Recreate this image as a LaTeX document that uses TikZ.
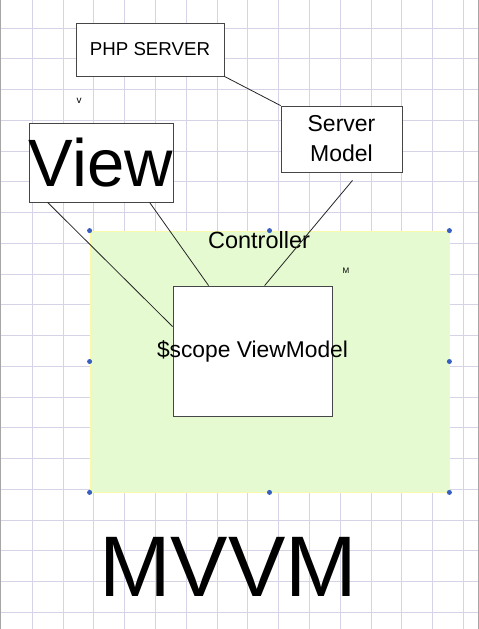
\documentclass[tikz,border=0pt]{standalone}
\usepackage{fontspec}
\setmainfont{Liberation Sans}
\usepackage{xcolor}
\usetikzlibrary{positioning}

\definecolor{gridlav}{RGB}{212,212,230}
\definecolor{ctrlgreen}{RGB}{229,250,209}
\definecolor{ctrledge}{RGB}{250,250,170}
\definecolor{boxgray}{RGB}{70,70,70}
\definecolor{handleblue}{RGB}{55,95,195}

\newcommand{\fs}[1]{\fontsize{#1}{#1}\selectfont}

\begin{document}
\begin{tikzpicture}[
  x=1pt, y=-1pt,
  box/.style={draw=boxgray, fill=white, line width=0.8pt, inner sep=0pt, align=center},
  link/.style={draw=black!85, line width=0.8pt},
  handle/.style={circle, fill=handleblue, inner sep=0pt, minimum size=5pt}
]
\useasboundingbox (0,0) rectangle (479,629);
\fill[white] (0,0) rectangle (479,629);

% grid
\foreach \i in {1,...,15}
  \draw[gridlav, line width=0.9pt] (1.5+30.8*\i,0) -- (1.5+30.8*\i,629);
\foreach \j in {0,...,19}
  \draw[gridlav, line width=0.9pt] (0,28+30.75*\j) -- (479,28+30.75*\j);
\draw[gray!70, line width=1.2pt] (0.6,0) -- (0.6,629);
\draw[gray!70, line width=1.2pt] (478.4,0) -- (478.4,629);

% controller area
\node[draw=ctrledge, fill=ctrlgreen, line width=0.8pt, minimum width=359pt, minimum height=261pt,
  inner sep=0pt] (ctrl) at (269.5,361.5) {};
\node[anchor=base, font=\fs{23.5}] (ctrllbl) at (259,248) {Controller};
\node[font=\fs{8}] (mark) at (346,271) {M};

% boxes
\node[box, minimum width=148pt, minimum height=53pt, font=\fs{18.7}] (php) at (150,49.5) {PHP SERVER};
\node[box, minimum width=144pt, minimum height=79pt, font=\fs{67}] (view) at (101,162.5) {View};
\node[box, minimum width=121pt, minimum height=66pt, font=\fontsize{23}{30}\selectfont] (sm) at (341.5,139) {Server\\Model};
\node[box, minimum width=159pt, minimum height=130pt] (vm) at (252.5,351) {};
\node[anchor=base, font=\fs{22.8}] (vmlbl) at (252.5,357) {\$scope ViewModel};
\node[font=\fs{10}] (vmark) at (79,101) {v};

% connectors
\draw[link] (php.south east) -- (sm.north west);
\draw[link] ([xshift=19pt]view.south west) -- ([yshift=-41pt]vm.north west);
\draw[link] ([xshift=121pt]view.south west) -- ([xshift=36pt]vm.north west);
\draw[link] ([xshift=11pt,yshift=-8pt]sm.south) -- ([xshift=92pt]vm.north west);

% selection handles
\foreach \a in {north west, north, north east, west, east, south west, south, south east}
  \node[handle] at (ctrl.\a) {};

\node[anchor=base, font=\fs{86}] (title) at (228,596) {MVVM};
\end{tikzpicture}
\end{document}
